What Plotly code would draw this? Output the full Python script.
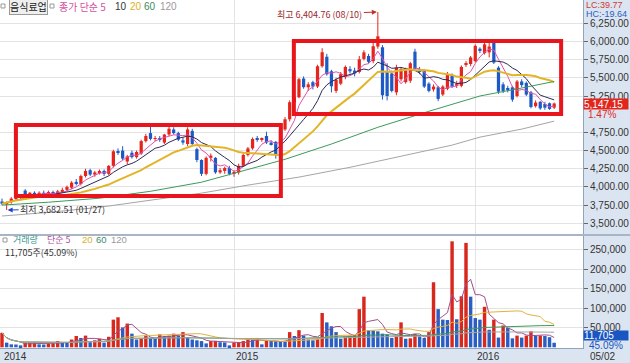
import pandas as pd
import plotly.graph_objects as go

# ------------------------------------------------------------------ data
week_start = "2014-01-20"          # weekly candles, one per week

open_ = [
    3800, 3760, 3790, 3840, 3860, 3950, 3900, 3920, 3890, 3920,
    3900, 3930, 3900, 3940, 3960, 3990, 4070, 4040, 4150, 4230,
    4170, 4200, 4220, 4180, 4290, 4490, 4500, 4350, 4470, 4410,
    4460, 4630, 4740, 4660, 4670, 4610, 4720, 4790, 4740, 4640,
    4590, 4770, 4520, 4370, 4180, 4400, 4400, 4200, 4220, 4260,
    4180, 4200, 4290, 4440, 4530, 4660, 4650, 4700, 4610, 4620,
    4440, 4790, 4930, 5165, 5233, 5490, 5370, 5440, 5380, 5660,
    5790, 5590, 5320, 5420, 5510, 5620, 5600, 5580, 5760, 5800,
    5730, 5930, 5920, 5580, 5560, 5300, 5480, 5440, 5460, 5860,
    5620, 5600, 5420, 5340, 5370, 5270, 5350, 5540, 5390, 5390,
    5680, 5690, 5730, 5900, 5840, 5850, 5990, 5640, 5410, 5360,
    5370, 5250, 5450, 5430, 5300, 5110, 5170, 5140, 5150, 5090,
]
high = [
    3840, 3800, 3860, 3880, 3900, 3970, 3930, 3940, 3940, 3950,
    3950, 3950, 3960, 3990, 4020, 4080, 4110, 4170, 4250, 4250,
    4220, 4240, 4240, 4300, 4510, 4530, 4560, 4440, 4500, 4500,
    4650, 4730, 4830, 4700, 4700, 4730, 4830, 4820, 4760, 4680,
    4820, 4800, 4540, 4380, 4420, 4460, 4410, 4260, 4280, 4290,
    4230, 4320, 4460, 4550, 4680, 4700, 4680, 4760, 4640, 4630,
    4810, 4960, 5190, 5260, 5500, 5520, 5440, 5460, 5680, 5907,
    5830, 5610, 5500, 5580, 5670, 5660, 5640, 5800, 5880, 5830,
    5980, 6404.76, 5950, 5700, 5600, 5680, 5650, 5640, 5720, 5900,
    5650, 5620, 5440, 5410, 5390, 5400, 5580, 5560, 5460, 5670,
    5730, 5800, 5960, 5920, 6000, 6010, 6010, 5660, 5440, 5390,
    5390, 5470, 5480, 5450, 5320, 5190, 5180, 5170, 5160, 5160,
]
low = [
    3750, 3682.51, 3770, 3810, 3830, 3880, 3870, 3870, 3870, 3880,
    3880, 3870, 3880, 3920, 3940, 3970, 4020, 4020, 4130, 4150,
    4140, 4170, 4150, 4160, 4270, 4440, 4370, 4310, 4390, 4390,
    4440, 4610, 4640, 4630, 4620, 4590, 4700, 4720, 4630, 4580,
    4560, 4560, 4340, 4150, 4160, 4350, 4180, 4180, 4180, 4160,
    4140, 4170, 4280, 4420, 4510, 4620, 4620, 4590, 4570, 4390,
    4430, 4770, 4900, 5130, 5220, 5350, 5320, 5340, 5360, 5640,
    5530, 5300, 5290, 5400, 5480, 5560, 5520, 5560, 5740, 5700,
    5700, 5900, 5200, 5190, 5300, 5260, 5450, 5420, 5430, 5600,
    5550, 5360, 5300, 5310, 5180, 5250, 5330, 5360, 5360, 5370,
    5650, 5660, 5710, 5840, 5820, 5780, 5690, 5280, 5290, 5300,
    5170, 5230, 5370, 5250, 5080, 5090, 5060, 5060, 5060, 5070,
]
close = [
    3770, 3790, 3840, 3860, 3880, 3900, 3920, 3890, 3920, 3900,
    3930, 3900, 3940, 3960, 4000, 4060, 4040, 4150, 4220, 4170,
    4200, 4210, 4180, 4290, 4490, 4470, 4390, 4420, 4410, 4480,
    4630, 4700, 4660, 4670, 4650, 4720, 4800, 4740, 4650, 4610,
    4790, 4590, 4370, 4180, 4400, 4430, 4200, 4230, 4260, 4180,
    4200, 4290, 4440, 4530, 4660, 4650, 4660, 4610, 4590, 4440,
    4790, 4930, 5165, 5233, 5481, 5371, 5410, 5380, 5659, 5852,
    5549, 5384, 5470, 5550, 5650, 5590, 5560, 5755, 5850, 5720,
    5934, 6071, 5260, 5250, 5320, 5640, 5620, 5600, 5700, 5620,
    5580, 5380, 5320, 5380, 5210, 5380, 5550, 5380, 5420, 5650,
    5700, 5780, 5940, 5870, 5960, 5930, 5710, 5310, 5320, 5330,
    5200, 5450, 5400, 5270, 5100, 5160, 5080, 5090, 5072.6, 5147.15,
]
volume = [
    37000, 12000, 7600, 7200, 5000, 12000, 12300, 12600, 7600, 7200,
    10000, 10400, 16000, 12000, 11500, 20000, 29000, 24000, 30000, 13000,
    18000, 22000, 12000, 27000, 71000, 77000, 51000, 61000, 35000, 20000,
    22000, 30000, 24000, 22000, 33000, 29000, 30000, 35000, 30000, 39000,
    26000, 20000, 18000, 16000, 10000, 16000, 16500, 13000, 12500, 5000,
    12000, 13000, 16000, 22000, 20000, 24000, 7600, 18000, 16000, 15500,
    15000, 14500, 39000, 29000, 44000, 30000, 20000, 18000, 22000, 88000,
    64000, 54000, 39000, 22000, 27000, 30000, 31000, 98000, 130000, 44000,
    43000, 41000, 35000, 33000, 24000, 29000, 64000, 22000, 23000, 34000,
    28000, 24000, 39000, 167000, 98000, 71000, 70000, 272000, 72000, 131000,
    268000, 130000, 75000, 71000, 104000, 45000, 71000, 25000, 56000, 50000,
    23000, 30000, 25000, 30000, 41000, 29000, 30000, 29000, 25959, 11705,
]
ma60_week = [0, 10, 21, 32, 43, 53, 61, 71, 81, 92, 103, 112, 119]
ma60_value = [3750, 3790, 3845, 3940, 4065, 4245, 4380, 4590, 4820, 5040, 5250, 5360, 5450]
ma120_week = [0, 10, 21, 32, 43, 53, 64, 75, 86, 97, 103, 112, 119]
ma120_value = [3600, 3650, 3720, 3820, 3915, 4025, 4135, 4270, 4420, 4575, 4685, 4795, 4905]
# highlighted zones (week range, price range)
box_weeks = [(3.0, 60.1), (62.9, 120.5)]
box_prices = [(3875, 4852), (5003, 6007)]
price_ticks = [3500, 3750, 4000, 4250, 4500, 4750, 5250, 5500, 5750, 6000, 6250]
volume_ticks = [50000, 100000, 150000, 200000, 250000]

# ------------------------------------------------------------------ derived
n = len(close)
dates = pd.date_range(week_start, periods=n, freq="7D")
weeks = list(range(n))
close_s = pd.Series(close, dtype=float)
vol_s = pd.Series(volume, dtype=float)
up = [c >= o for o, c in zip(open_, close)]
# volume bars are red when volume rose versus the previous week
vol_up = [i == 0 or volume[i] > volume[i - 1] for i in weeks]

# ------------------------------------------------------------------ geometry
W, H = 630, 363
M_L, M_R, M_T, M_B = 0, 47, 0, 15
PW, PH = W - M_L - M_R, H - M_T - M_B
PX_PER_WEEK, FIRST_PX = 4.64, 2.0
PRICE_BOTTOM_PX, VOL_TOP_PX = 234, 236
PRICE_AXIS = (3353, 6570)
VOL_AXIS = (-1800, 285700)


def fx(px):
    return (px - M_L) / PW


def fy(py):
    return 1 - (py - M_T) / PH


x_range = [(0 - FIRST_PX) / PX_PER_WEEK, (PW - FIRST_PX) / PX_PER_WEEK]

FONT = "Noto Sans CJK KR, Liberation Sans, sans-serif"
TICKFONT = "Liberation Sans, Arial, sans-serif"
RED, BLUE = "#e5261d", "#1e5ac6"
VRED, VBLUE = "#d8281e", "#2a5ec2"
GRID = "#e3e3e3"
AXL = "#93a3b8"

fig = go.Figure()

# ---- candles
for flag, col in ((True, RED), (False, BLUE)):
    sel = [i for i in weeks if up[i] == flag]
    wx, wy = [], []
    for i in sel:
        wx += [i, i, None]
        wy += [low[i], high[i], None]
    fig.add_trace(go.Scatter(x=wx, y=wy, mode="lines", line=dict(color=col, width=1),
                             xaxis="x", yaxis="y", hoverinfo="skip"))
    fig.add_trace(go.Bar(x=sel, y=[abs(close[i] - open_[i]) for i in sel],
                         base=[min(open_[i], close[i]) for i in sel],
                         marker=dict(color=col, line=dict(width=0)), width=0.7,
                         xaxis="x", yaxis="y", hoverinfo="skip"))

# ---- price moving averages
for p, col, w in ((5, "#e052ae", 1), (10, "#2b2b55", 1), (20, "#e2b526", 2)):
    fig.add_trace(go.Scatter(x=weeks, y=close_s.rolling(p, min_periods=1).mean(), mode="lines",
                             line=dict(color=col, width=w), xaxis="x", yaxis="y", hoverinfo="skip"))
fig.add_trace(go.Scatter(x=ma60_week, y=ma60_value, mode="lines", line=dict(color="#3c9a5c", width=1),
                         xaxis="x", yaxis="y", hoverinfo="skip"))
fig.add_trace(go.Scatter(x=ma120_week, y=ma120_value, mode="lines", line=dict(color="#a5a5a5", width=1),
                         xaxis="x", yaxis="y", hoverinfo="skip"))

# ---- volume
for flag, col in ((True, VRED), (False, VBLUE)):
    sel = [i for i in weeks if vol_up[i] == flag]
    fig.add_trace(go.Bar(x=sel, y=[volume[i] for i in sel], marker=dict(color=col, line=dict(width=0)),
                         width=0.74, xaxis="x2", yaxis="y2", hoverinfo="skip"))
for p, col in ((5, "#a24e8e"), (20, "#e0b23a"), (60, "#3c9a5c"), (120, "#a5a5a5")):
    fig.add_trace(go.Scatter(x=weeks, y=vol_s.rolling(p, min_periods=1).mean(), mode="lines",
                             line=dict(color=col, width=1), xaxis="x2", yaxis="y2", hoverinfo="skip"))

# ---- shapes
shapes = []
for (x0, x1), (y0, y1) in zip(box_weeks, box_prices):
    shapes.append(dict(type="rect", xref="x", yref="y", x0=x0, x1=x1, y0=y0, y1=y1,
                       line=dict(color="#e8161c", width=4), fillcolor="rgba(0,0,0,0)", layer="above"))
shapes.append(dict(type="line", xref="paper", yref="paper", x0=0, x1=W / PW, y0=fy(235), y1=fy(235),
                   line=dict(color="#a9b5c5", width=2)))
for (px, py) in ((1, 6), (50, 6), (3, 240)):
    shapes.append(dict(type="rect", xref="paper", yref="paper", x0=fx(px), x1=fx(px + 4),
                       y0=fy(py - 2), y1=fy(py + 2), line=dict(color="#999", width=1), fillcolor="white"))

# ---- annotations
anns = []


def txt(text, px, py, color="#333", size=10, family=FONT, **kw):
    d = dict(text=text, x=fx(px), y=fy(py), xref="paper", yref="paper", xanchor="left",
             yanchor="middle", showarrow=False, font=dict(size=size, color=color, family=family))
    d.update(kw)
    anns.append(d)


# legends
txt("음식료업", 9, 7, color="#222", size=10, bgcolor="#efefef", bordercolor="#9a9a9a",
    borderwidth=1, borderpad=0)
txt("종가 단순 5", 57, 7, color="#d4519f")
txt("10", 113, 7, color="#333", family=TICKFONT)
txt("20", 128, 7, color="#d6b126", family=TICKFONT)
txt("60", 142, 7, color="#3a8a5e", family=TICKFONT)
txt("120", 158, 7, color="#9a9a9a", family=TICKFONT)

vol_pct = volume[-1] / volume[-2] * 100
txt("거래량", 11, 239.5, color="#3a9a8c", size=9)
txt("단순 5", 45, 239.5, color="#b0529e", size=9)
txt("20", 80, 239.5, color="#d6b126", size=9.5, family=TICKFONT)
txt("60", 94, 239.5, color="#3a8a6e", size=9.5, family=TICKFONT)
txt("120", 109, 239.5, color="#9a9a9a", size=9.5, family=TICKFONT)
txt(f"{volume[-1]:,}주({vol_pct:.2f}%)", 3, 252.5, color="#333", size=9)

# right side labels
lc = (close[-1] / min(low) - 1) * 100
hc = (close[-1] / max(high) - 1) * 100
txt(f"LC:{lc:.2f}", 584, 5.5, color="#d03a32", size=9, family=TICKFONT)
txt(f"HC:{hc:.2f}", 584, 14.5, color="#2b5cc4", size=9, family=TICKFONT)

chg = (close[-1] / close[-2] - 1) * 100
anns.append(dict(text=f"{close[-1]:,.2f}", xref="paper", x=1, xanchor="left", yref="y", y=close[-1],
                 yanchor="middle", showarrow=False, bgcolor="#e3261c", width=44, height=10, borderpad=0,
                 align="left", font=dict(color="white", size=10, family=TICKFONT)))
anns.append(dict(text=f"{chg:.2f}%", xref="paper", x=1, xanchor="left", xshift=3, yref="y", y=close[-1],
                 yshift=-11, yanchor="middle", showarrow=False,
                 font=dict(color="#e3261c", size=10, family=TICKFONT)))
anns.append(dict(text=f"{volume[-1]:,}", xref="paper", x=1, xanchor="left", yref="paper", y=fy(335),
                 yanchor="middle", showarrow=False, bgcolor="#1a56c2", width=44, height=9, borderpad=0,
                 align="left", font=dict(color="white", size=10, family=TICKFONT)))
txt(f"{vol_pct:.2f}%", 587, 345, color="#1a56c2", family=TICKFONT)

# x labels
year_idx = [i for i in range(1, n) if dates[i].year != dates[i - 1].year]
for i in [0] + year_idx:
    anns.append(dict(text=str(dates[i].year), xref="x2", x=i, xanchor="left", yref="paper", y=fy(356),
                     yanchor="middle", showarrow=False, font=dict(size=10, color="#333", family=TICKFONT)))
txt(dates[-1].strftime("%m/%d"), 588, 356, family=TICKFONT)

# high / low markers
ih = max(weeks, key=lambda i: high[i])
il = min(weeks, key=lambda i: low[i])
anns.append(dict(x=ih, y=high[ih], xref="x", yref="y",
                 text=f"최고 {high[ih]:,.2f} ({dates[ih]:%m/%d})", showarrow=True, ax=-58, ay=2,
                 arrowhead=2, arrowsize=1, arrowwidth=1, arrowcolor="#c0302a", standoff=1,
                 font=dict(size=9, color="#9a2a2a", family=FONT)))
anns.append(dict(x=il, y=low[il], xref="x", yref="y",
                 text=f"최저 {low[il]:,.2f} ({dates[il]:%m/%d})", showarrow=True, ax=56, ay=-1,
                 arrowhead=2, arrowsize=1, arrowwidth=1, arrowcolor="#1f3fd0", standoff=1,
                 font=dict(size=9, color="#333", family=FONT)))

fig.update_layout(
    width=W, height=H, margin=dict(l=M_L, r=M_R, t=M_T, b=M_B, pad=0),
    paper_bgcolor="#dbe5f1", plot_bgcolor="#ffffff",
    barmode="overlay", showlegend=False, hovermode=False,
    font=dict(family=FONT, size=10, color="#333"),
    xaxis=dict(domain=[0, 1], range=x_range, anchor="y", tickvals=year_idx, showticklabels=False,
               showgrid=True, gridcolor=GRID, zeroline=False, ticks=""),
    xaxis2=dict(domain=[0, 1], range=x_range, anchor="y2", matches="x", tickvals=year_idx,
                showticklabels=False, showgrid=True, gridcolor=GRID, zeroline=False, ticks="",
                showline=True, linecolor=AXL, linewidth=1),
    yaxis=dict(domain=[fy(PRICE_BOTTOM_PX), 1], range=list(PRICE_AXIS), side="right", anchor="x",
               tickvals=price_ticks, tickformat=",.2f", ticks="outside", ticklen=4, tickcolor="#666",
               tickfont=dict(size=10, family=TICKFONT, color="#333"), showgrid=True, gridcolor=GRID,
               zeroline=False, showline=True, linecolor=AXL, linewidth=1),
    yaxis2=dict(domain=[0, fy(VOL_TOP_PX)], range=list(VOL_AXIS), side="right", anchor="x2",
                tickvals=volume_ticks, tickformat=",", ticks="outside", ticklen=4, tickcolor="#666",
                tickfont=dict(size=10, family=TICKFONT, color="#333"), showgrid=True, gridcolor=GRID,
                zeroline=False, showline=True, linecolor=AXL, linewidth=1),
    shapes=shapes, annotations=anns,
)

# the page's default 8px body margin would push the figure out of the 630x363 window
fig.write_html("out.html", config={"displayModeBar": False},
               post_script="document.body.style.margin='0';")
